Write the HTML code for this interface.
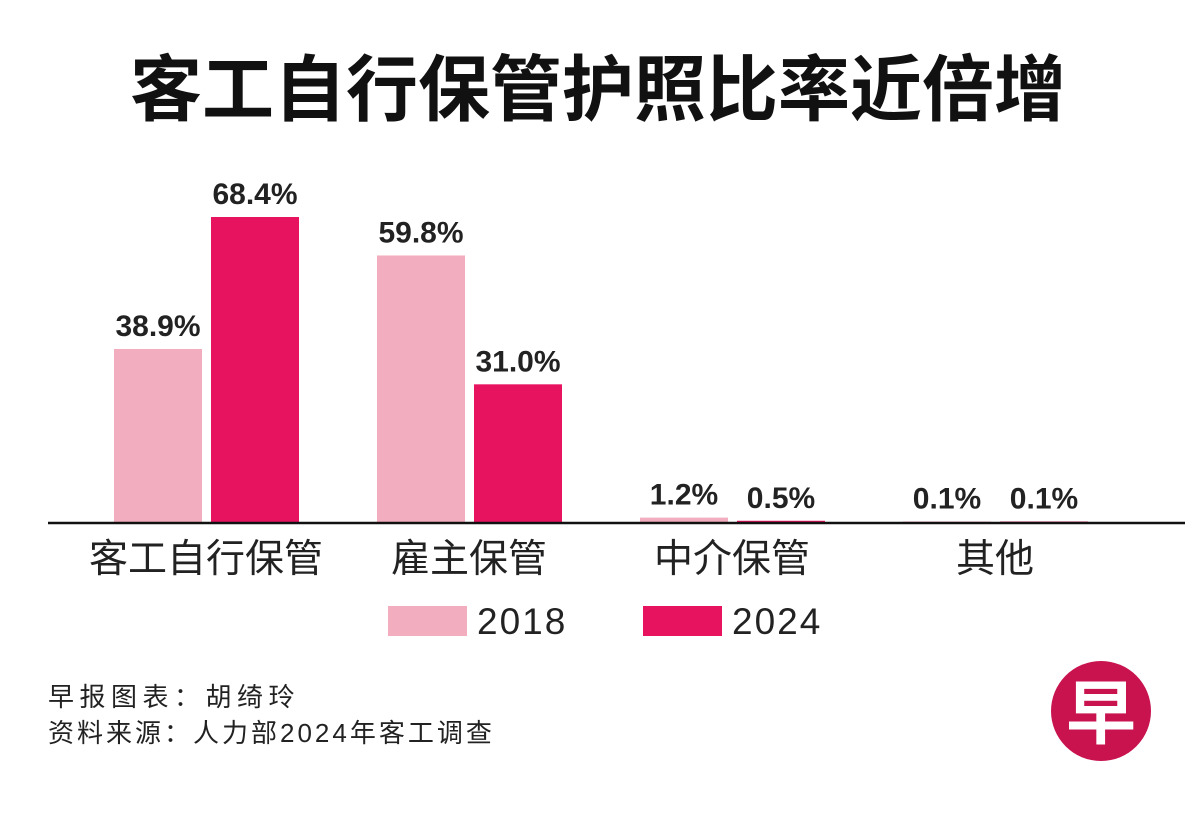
<!DOCTYPE html>
<html><head><meta charset="utf-8"><style>
body{margin:0;background:#fff;width:1200px;height:814px;overflow:hidden;font-family:"Liberation Sans","Noto Sans CJK SC",sans-serif}
svg{display:block}
</style></head><body>
<svg width="1200" height="814">
<text x="598" y="115" text-anchor="middle" font-size="72" font-weight="bold" fill="#111" font-family="'Liberation Sans','Noto Sans CJK SC',sans-serif">客工自行保管护照比率近倍增</text>
<g id="bars"></g>
<line x1="48" y1="523" x2="1185" y2="523" stroke="#111" stroke-width="2.5"/>
<g id="cats"></g>
<rect x="388" y="606" width="79" height="30" fill="#f2adbe"/>
<text x="477" y="634" font-size="37" letter-spacing="2" fill="#222">2018</text>
<rect x="643" y="606" width="79" height="30" fill="#e8135f"/>
<text x="732" y="634" font-size="37" letter-spacing="2" fill="#222">2024</text>
<text x="48" y="706" font-size="26" letter-spacing="5.5" fill="#222" font-family="'Liberation Sans','Noto Sans CJK SC',sans-serif">早报图表：胡绮玲</text>
<text x="48" y="742" font-size="26" letter-spacing="3" fill="#222" font-family="'Liberation Sans','Noto Sans CJK SC',sans-serif">资料来源：人力部2024年客工调查</text>
<circle cx="1101" cy="711" r="50" fill="#c8134f"/>
<text x="1101" y="738" text-anchor="middle" font-size="70" font-weight="bold" fill="#fff" font-family="'Noto Sans CJK SC',sans-serif">早</text>
</svg>
<script>
const categories=["客工自行保管","雇主保管","中介保管","其他"];
const values2018=[38.9,59.8,1.2,0.1];
const values2024=[68.4,31.0,0.5,0.1];
const ns="http://www.w3.org/2000/svg";
const base=523, scale=306/68.4;
function y(v){return base-v*scale;}
function gx(i){return 114+i*263;}
const bars=document.getElementById('bars'), cats=document.getElementById('cats');
function mk(t,a){const e=document.createElementNS(ns,t);for(const k in a)e.setAttribute(k,a[k]);return e;}
categories.forEach((c,i)=>{
  [[values2018,'#f2adbe',0,'2018'],[values2024,'#e8135f',97,'2024']].forEach(([arr,col,off,yr])=>{
    const v=arr[i], x=gx(i)+off, h=Math.max(v*scale,1.5);
    const r=mk('rect',{x:x,y:base-h,width:88,height:h,fill:col});
    
    
    bars.appendChild(r);
    const t=mk('text',{x:x+44,y:base-h-13,'text-anchor':'middle','font-size':'30','font-weight':'bold',fill:'#222','font-family':"'Liberation Sans Narrow','Liberation Sans',sans-serif"});
    t.textContent=v.toFixed(1)+'%';
    
    
    bars.appendChild(t);
  });
  const t=mk('text',{x:gx(i)+92,y:572,'text-anchor':'middle','font-size':'39',fill:'#222','font-family':"'Liberation Sans','Noto Sans CJK SC',sans-serif"});
  t.textContent=c;
  
  
  cats.appendChild(t);
});
</script>
</body></html>
